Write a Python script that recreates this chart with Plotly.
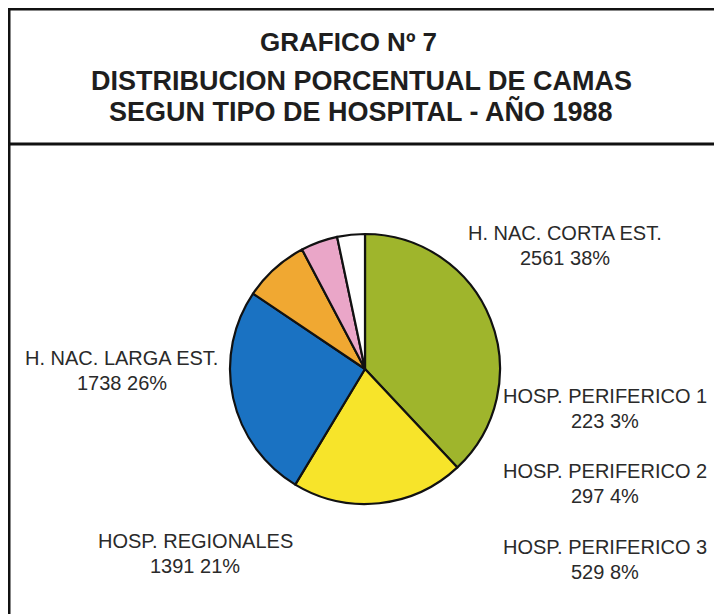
import plotly.graph_objects as go

# Data
labels = ["H. NAC. CORTA EST.", "HOSP. REGIONALES", "H. NAC. LARGA EST.",
          "HOSP. PERIFERICO 3", "HOSP. PERIFERICO 2", "HOSP. PERIFERICO 1"]
camas = [2561, 1391, 1738, 529, 297, 223]
percent_labels = ["38%", "21%", "26%", "8%", "4%", "3%"]
colors = ["#9fb52c", "#f7e42a", "#1a72c2", "#f0a832", "#eaa6c8", "#ffffff"]

# page body has an 8px margin; figure fills the rest of the 722x614 window
OFF = 8
W, H = 722 - OFF, 614 - OFF


def px(x):
    return (x - OFF) / W


def py(y):
    return 1 - (y - OFF) / H


fig = go.Figure()
fig.add_trace(go.Pie(
    labels=labels, values=camas, sort=False, direction="clockwise", rotation=0,
    marker=dict(colors=colors, line=dict(color="#111111", width=2.2)),
    textinfo="none", hoverinfo="label+value+percent", showlegend=False,
    domain=dict(x=[px(230), px(500)], y=[py(504), py(234)]),
))

# label positions (pixels in window) for each category: (x center, y of first line)
label_pos = {
    "H. NAC. CORTA EST.": (565, 233),
    "HOSP. REGIONALES": (195, 541),
    "H. NAC. LARGA EST.": (122, 358),
    "HOSP. PERIFERICO 3": (605, 547),
    "HOSP. PERIFERICO 2": (605, 471),
    "HOSP. PERIFERICO 1": (605, 396),
}

font_lbl = dict(family="Liberation Sans, Arial, sans-serif", size=20, color="#2a2a2a")
anns = []
for lab, val, pct in zip(labels, camas, percent_labels):
    x, y = label_pos[lab]
    anns.append(dict(x=px(x), y=py(y), xref="paper", yref="paper", text=lab,
                     showarrow=False, font=font_lbl, xanchor="center", yanchor="middle"))
    anns.append(dict(x=px(x), y=py(y + 25), xref="paper", yref="paper",
                     text=f"{val} {pct}", showarrow=False, font=font_lbl,
                     xanchor="center", yanchor="middle"))

font_title = dict(family="Liberation Sans, Arial, sans-serif", size=26, color="#1e1e1e")
titles = [("<b>GRAFICO Nº 7</b>", 348, 42, 26),
          ("<b>DISTRIBUCION PORCENTUAL DE CAMAS</b>", 361, 81, 27),
          ("<b>SEGUN TIPO DE HOSPITAL - AÑO 1988</b>", 361, 111, 27)]
for t, x, y, s in titles:
    anns.append(dict(x=px(x), y=py(y), xref="paper", yref="paper", text=t,
                     showarrow=False, font=dict(font_title, size=s),
                     xanchor="center", yanchor="middle"))

shapes = [
    dict(type="line", xref="paper", yref="paper", x0=1 / W, x1=1 / W, y0=1, y1=0,
         line=dict(color="#111111", width=3)),
    dict(type="line", xref="paper", yref="paper", x0=0, x1=1, y0=1 - 1 / H, y1=1 - 1 / H,
         line=dict(color="#111111", width=3)),
    dict(type="line", xref="paper", yref="paper", x0=0, x1=1, y0=py(144), y1=py(144),
         line=dict(color="#111111", width=3)),
    dict(type="line", xref="paper", yref="paper", x0=px(719), x1=px(719), y0=1, y1=0,
         line=dict(color="#dddddd", width=1)),
]

fig.update_layout(
    width=W, height=H, margin=dict(l=0, r=0, t=0, b=0),
    paper_bgcolor="white", plot_bgcolor="white",
    annotations=anns, shapes=shapes,
)

fig.write_html("out.html")
